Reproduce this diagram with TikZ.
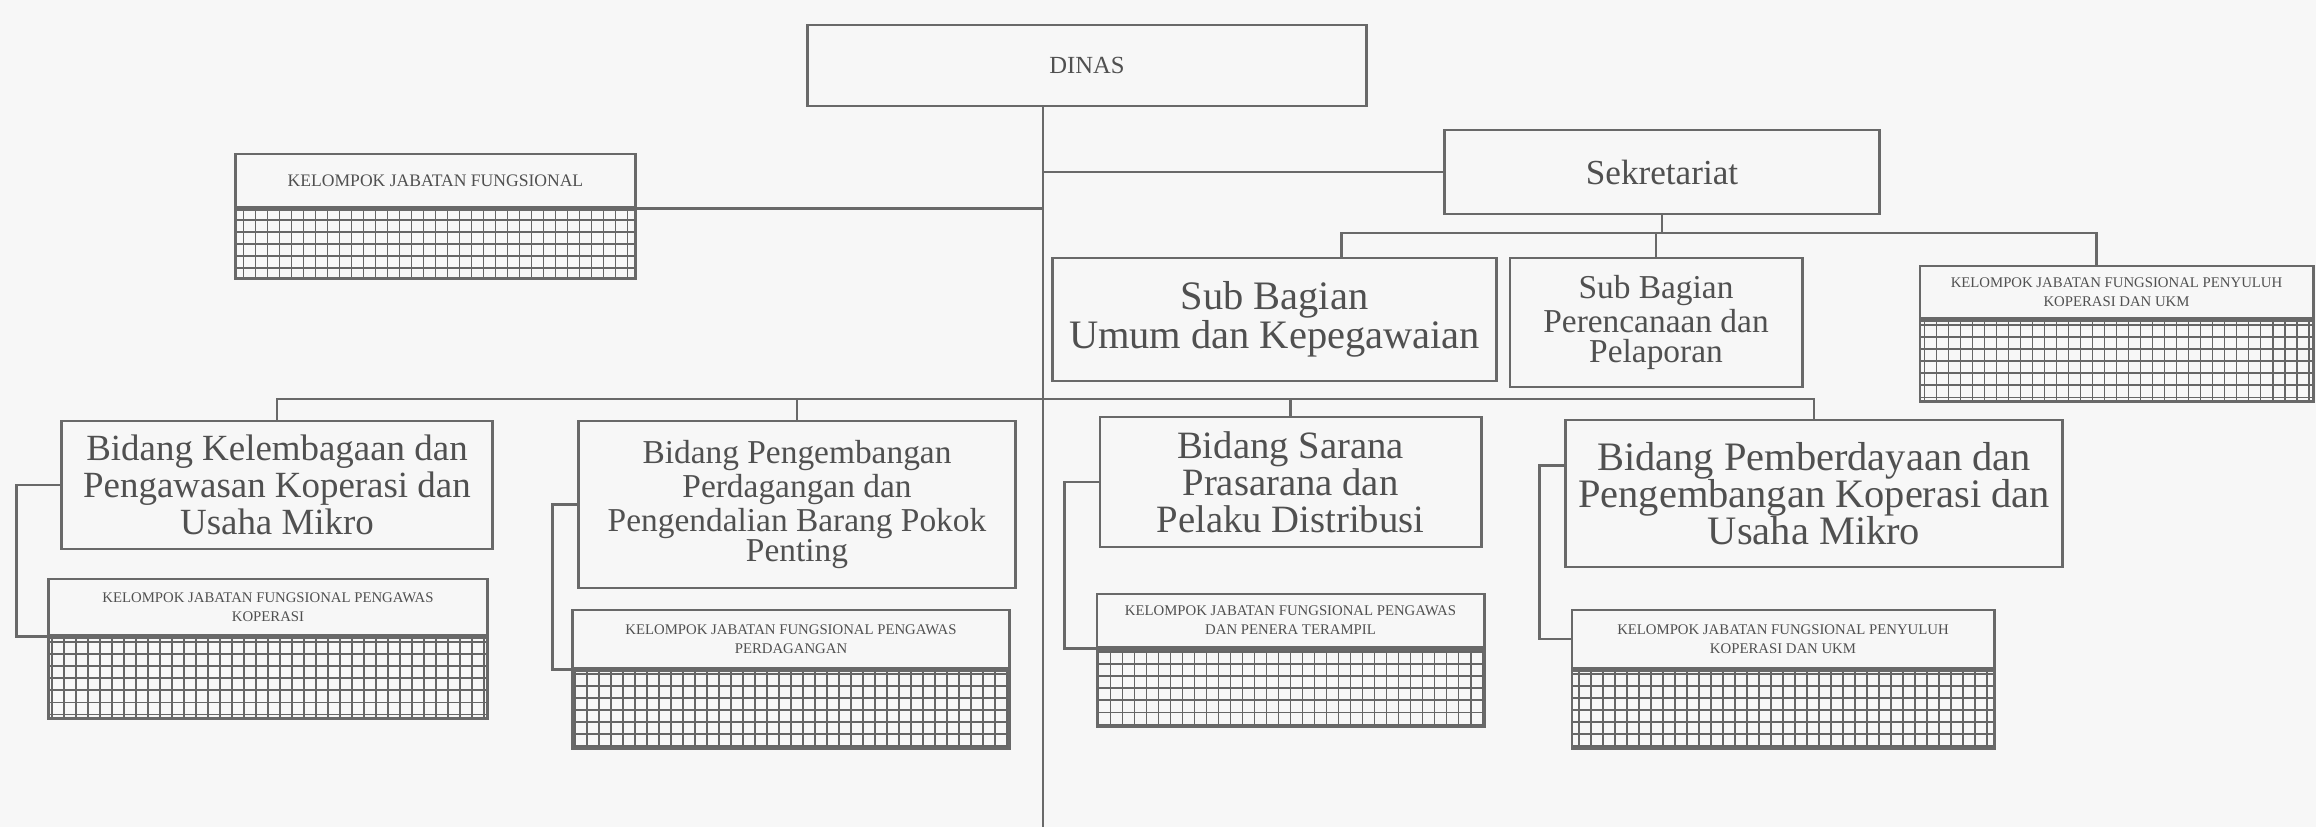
\documentclass[tikz,border=0pt]{standalone}
\usepackage{fontspec}
\setmainfont{Liberation Serif}
\definecolor{kertas}{RGB}{247,247,247}
\definecolor{garis}{RGB}{105,105,105}
\definecolor{tulisan}{RGB}{80,80,80}
\tikzset{
  kotak/.style={draw=garis,line width=0.8pt,align=center,text=tulisan,inner sep=2pt},
  judulkel/.style={kotak,font=\fontsize{4.2}{5.4}\selectfont},
  kisi/.style={draw=garis,line width=0.8pt,path picture={
      \draw[black!60,line width=0.5pt,x=1cm,y=1cm,step=0.12]
        (path picture bounding box.south west) grid (path picture bounding box.north east);}},
  sambung/.style={draw=garis,line width=0.8pt}
}
\begin{document}
\begin{tikzpicture}[x=0.01cm,y=-0.01cm]
        \useasboundingbox (0,0) rectangle (2316,827);
        \fill[kertas] (0,0) rectangle (2316,827);
        \draw (1087,65.5) node[kotak,minimum width=5.58cm,minimum height=0.81cm,font=\fontsize{7}{8}\selectfont](dinas){DINAS};
        \draw (1662,172) node[kotak,minimum width=4.34cm,minimum height=0.84cm,font=\fontsize{10}{11}\selectfont](sekretariat){Sekretariat};
        \draw (435.5,180.5) node[judulkel,minimum width=3.99cm,minimum height=0.53cm,font=\fontsize{5}{6}\selectfont](kelkiri){KELOMPOK JABATAN FUNGSIONAL};
        \draw (kelkiri.south) node[kisi,anchor=north,minimum width=3.99cm,minimum height=0.69cm](kelkirig){};
        \draw (1274.5,319.5) node[kotak,minimum width=4.43cm,minimum height=1.23cm,font=\fontsize{11.5}{11}\selectfont](subumum){Sub Bagian\\Umum dan Kepegawaian};
        \draw (1656,322.5) node[kotak,minimum width=2.92cm,minimum height=1.29cm,font=\fontsize{9.5}{8.5}\selectfont](subren){Sub Bagian\\Perencanaan dan\\Pelaporan};
        \draw (2116.5,292) node[judulkel,minimum width=3.93cm,minimum height=0.52cm](kelsek){KELOMPOK JABATAN FUNGSIONAL PENYULUH\\KOPERASI DAN UKM};
        \draw (kelsek.south) node[kisi,anchor=north,minimum width=3.93cm,minimum height=0.81cm](kelsekg){};
        \draw (277,485) node[kotak,minimum width=4.3cm,minimum height=1.28cm,font=\fontsize{10.5}{9}\selectfont](bidang1){Bidang Kelembagaan dan\\Pengawasan Koperasi dan\\Usaha Mikro};
        \draw (797,504.5) node[kotak,minimum width=4.36cm,minimum height=1.67cm,font=\fontsize{9.5}{8.5}\selectfont](bidang2){Bidang Pengembangan\\Perdagangan dan\\Pengendalian Barang Pokok\\Penting};
        \draw (1290.5,482) node[kotak,minimum width=3.81cm,minimum height=1.3cm,font=\fontsize{11}{10.5}\selectfont](bidang3){Bidang Sarana\\Prasarana dan\\Pelaku Distribusi};
        \draw (1814,493.5) node[kotak,minimum width=4.96cm,minimum height=1.47cm,font=\fontsize{11.5}{10.5}\selectfont](bidang4){Bidang Pemberdayaan dan\\Pengembangan Koperasi dan\\Usaha Mikro};
        \draw (268,607) node[judulkel,minimum width=4.38cm,minimum height=0.56cm](kel1){KELOMPOK JABATAN FUNGSIONAL PENGAWAS\\KOPERASI};
        \draw (kel1.south) node[kisi,anchor=north,minimum width=4.38cm,minimum height=0.81cm](kel1g){};
        \draw (791,639) node[judulkel,minimum width=4.36cm,minimum height=0.58cm](kel2){KELOMPOK JABATAN FUNGSIONAL PENGAWAS\\PERDAGANGAN};
        \draw (kel2.south) node[kisi,anchor=north,minimum width=4.36cm,minimum height=0.78cm](kel2g){};
        \draw (1290.5,620.5) node[judulkel,minimum width=3.87cm,minimum height=0.53cm](kel3){KELOMPOK JABATAN FUNGSIONAL PENGAWAS\\DAN PENERA TERAMPIL};
        \draw (kel3.south) node[kisi,anchor=north,minimum width=3.87cm,minimum height=0.77cm](kel3g){};
        \draw (1783,639) node[judulkel,minimum width=4.22cm,minimum height=0.58cm](kel4){KELOMPOK JABATAN FUNGSIONAL PENYULUH\\KOPERASI DAN UKM};
        \draw (kel4.south) node[kisi,anchor=north,minimum width=4.22cm,minimum height=0.78cm](kel4g){};
        \coordinate (spinetop) at (1043,106);
        \coordinate (spinebot) at (1043,827);
        \coordinate (busatas) at (0,233);
        \coordinate (busbawah) at (0,399);
        \draw[sambung]
          (spinetop) -- (spinebot)
          (kelkirig.north east) -- (kelkirig.north east -| spinetop)
          (spinetop |- sekretariat.west) -- (sekretariat.west)
          (sekretariat.south) -- (sekretariat.south |- busatas)
          ([xshift=0.67cm]subumum.north) |- ([xshift=-0.2cm]kelsek.north |- busatas) -- ([xshift=-0.2cm]kelsek.north)
          (subren.north) -- (subren.north |- busatas)
          (bidang1.north) |- (bidang4.north |- busbawah) -- (bidang4.north)
          (bidang2.north) -- (bidang2.north |- busbawah)
          (bidang3.north) -- (bidang3.north |- busbawah)
        ;
        \draw[sambung]
          (bidang1.west) -- ++(-44,0) |- (kel1.south west)
          (bidang2.west) -- ++(-25,0) |- (kel2.south west)
          (bidang3.west) -- ++(-34,0) |- (kel3.south west)
          ([yshift=0.28cm]bidang4.west) -- ++(-25,0) |- (kel4.west)
        ;
      \end{tikzpicture}
\end{document}
